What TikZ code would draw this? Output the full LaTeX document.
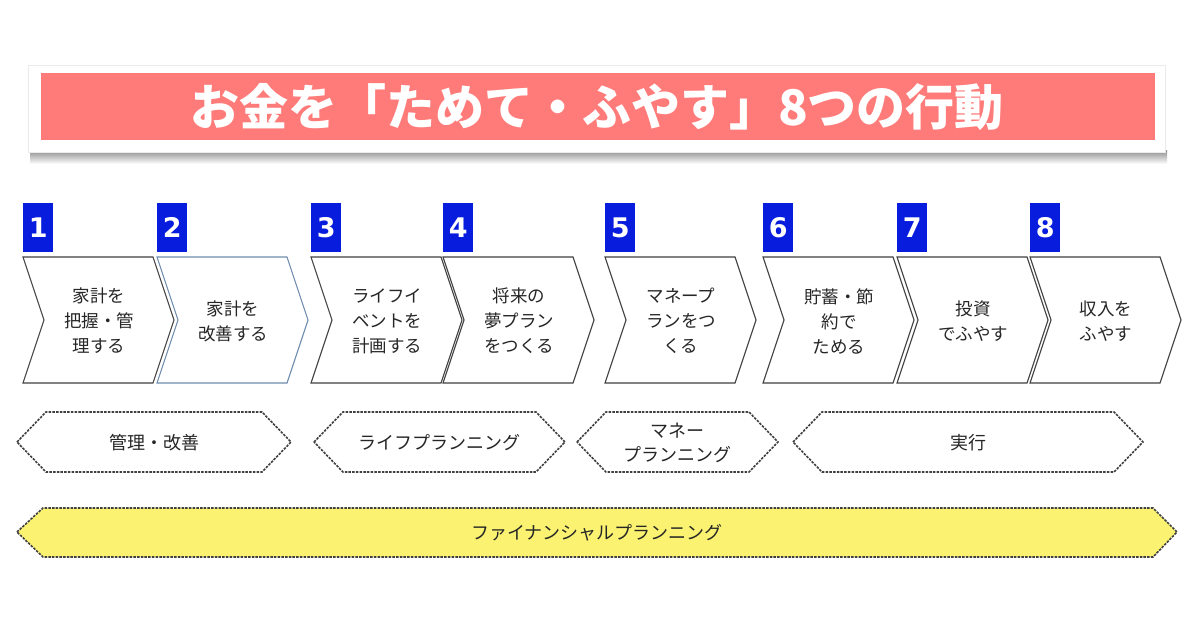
\documentclass[tikz,border=0pt]{standalone}
\usepackage{fontspec}
\setmainfont{Noto Sans CJK JP}
\newfontfamily\numfont{DejaVu Sans}
\usetikzlibrary{positioning}
\definecolor{titlered}{RGB}{255,123,121}
\definecolor{numblue}{RGB}{8,28,222}
\definecolor{bandyellow}{RGB}{250,242,112}
\definecolor{steelline}{RGB}{110,140,175}

\begin{document}
\begin{tikzpicture}[x=1pt, y=-1pt,
    chev/.style={line width=1.1pt, fill=white, line join=miter},
    numbox/.style={fill=numblue, text=white, font=\numfont\bfseries\fontsize{27}{27}\selectfont,
        minimum width=30pt, minimum height=49pt, inner sep=0pt, anchor=north west},
    steptext/.style={align=center, text=black!85, font=\fontsize{17.5}{25}\selectfont},
    phase/.style={draw=black!75, line width=1.6pt, dash pattern=on 2.5pt off 1.2pt},
    phasetext/.style={align=center, text=black!85, font=\fontsize{18}{24}\selectfont}]
  \useasboundingbox (0,0) rectangle (1200,629);
  \fill[white] (0,0) rectangle (1200,629);

  % title
  \shade[top color=black!45, bottom color=white] (30,150) rectangle (1167,164);
  \fill[white] (28,65) rectangle (1165,152);
  \draw[black!8] (28,65) rectangle (1165,152);
  \fill[titlered] (41,73) rectangle (1155,140);
  \node[text=white, font=\bfseries\fontsize{49}{49}\selectfont] (title) at (597,107)
      {お金を「ためて・ふやす」8つの行動};

  % steps
  \foreach \x/\n/\col/\txt in {
      23/1/black!75/{家計を\\把握・管\\理する},
      157/2/steelline/{家計を\\改善する},
      311/3/black!75/{ライフイ\\ベントを\\計画する},
      443/4/black!75/{将来の\\夢プラン\\をつくる},
      605/5/black!75/{マネープ\\ランをつ\\くる},
      763/6/black!75/{貯蓄・節\\約で\\ためる},
      897/7/black!75/{投資\\でふやす},
      1030/8/black!75/{収入を\\ふやす}} {
    \draw[chev, draw=\col] (\x,257) -- ++(130,0) -- ++(21,63) -- ++(-21,63)
        -- ++(-130,0) -- ++(21,-63) -- cycle;
    \node[steptext] (s\n) at (\x+76,321) {\txt};
    \node[numbox] (n\n) at (\x,203) {\n};
  }

  % phases
  \foreach \a/\b/\lbl [count=\i] in {
      17/291/{管理・改善},
      314/565/{ライフプランニング},
      577/778/{マネー\\プランニング},
      793/1143/{実行}} {
    \draw[phase, fill=white] (\a,442) -- (\a+29,412) -- (\b-29,412) -- (\b,442)
        -- (\b-29,472) -- (\a+29,472) -- cycle;
    \node[phasetext] (p\i) at ({(\a+\b)/2},443) {\lbl};
  }

  % whole band
  \draw[phase, fill=bandyellow] (17,532) -- (43,508) -- (1153,508) -- (1177,532)
      -- (1153,557) -- (43,557) -- cycle;
  \node[phasetext] (band) at (597,533) {ファイナンシャルプランニング};
\end{tikzpicture}
\end{document}
